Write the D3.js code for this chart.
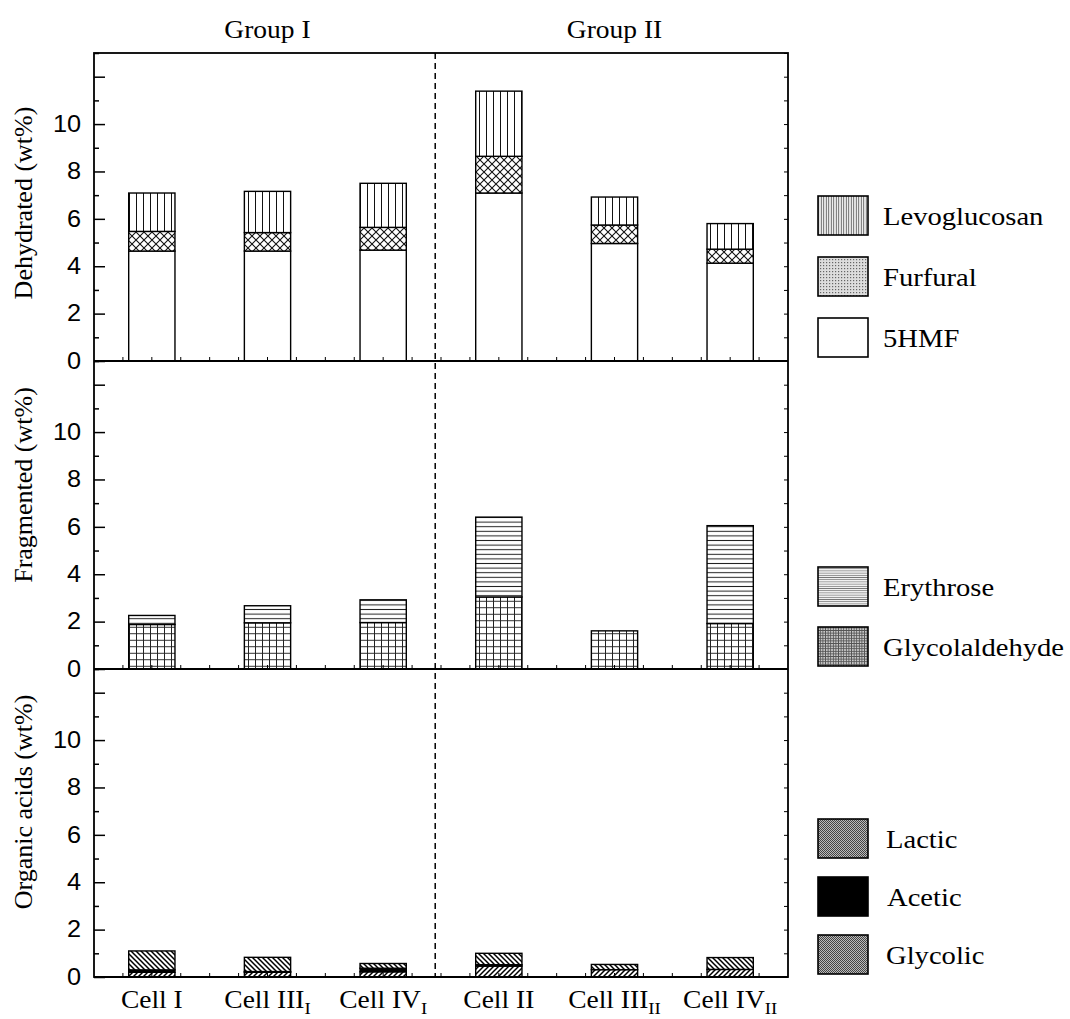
<!DOCTYPE html>
<html>
<head>
<meta charset="utf-8">
<script src="https://cdn.jsdelivr.net/npm/d3@7"></script>
<style>
  html, body { margin: 0; padding: 0; background: #fff; }
  svg { display: block; }
</style>
</head>
<body>
<svg id="chart" width="1070" height="1019"></svg>
<script>
// ---- Data ---------------------------------------------------------------
// Cells along the x axis: base label and subscript
const cellNames = ["Cell I", "Cell III", "Cell IV", "Cell II", "Cell III", "Cell IV"];
const cellSubs  = ["", "I", "I", "", "II", "II"];
const groupNames = ["Group I", "Group II"];

// Dehydrated products (wt%)
const hmf5         = [4.64, 4.64, 4.68, 7.09, 4.96, 4.13];
const furfural     = [0.83, 0.78, 0.96, 1.55, 0.78, 0.59];
const levoglucosan = [1.62, 1.74, 1.86, 2.75, 1.18, 1.08];

// Fragmented products (wt%)
const glycolaldehyde = [1.88, 1.95, 1.96, 3.04, 1.61, 1.92];
const erythrose      = [0.38, 0.72, 0.96, 3.37, 0.00, 4.13];

// Organic acids (wt%)
const glycolic = [0.20, 0.20, 0.22, 0.46, 0.31, 0.32];
const acetic   = [0.10, 0.03, 0.15, 0.06, 0.00, 0.00];
const lactic   = [0.80, 0.60, 0.20, 0.48, 0.22, 0.50];

// Y axis ticks (every unit) and the labelled ones
const yTickValues  = d3.range(0, 14);
const yTickLabels  = [0, 2, 4, 6, 8, 10];
const yMax = 13;

// ---- Layout -------------------------------------------------------------
const left = 94, right = 788, frameTop = 53, panelH = 308;
const serif = "'Liberation Serif', 'Times New Roman', serif";
const sans  = "'Liberation Sans', Arial, sans-serif";
const widen = 1.1;   // horizontal glyph widening for all horizontal text

const svg = d3.select("#chart");
const defs = svg.append("defs");

// place a horizontal text at (x, y) with slightly widened glyphs
function place(sel, fx, fy) {
  sel.attr("x", 0).attr("y", 0)
    .attr("transform", (d, i) => `translate(${fx(d, i)},${fy(d, i)}) scale(${widen},1)`);
  return sel;
}

// Hatch patterns used inside the bars
function pattern(id, w, h, draw, bg = "#fff") {
  const p = defs.append("pattern")
    .attr("id", id).attr("patternUnits", "userSpaceOnUse")
    .attr("width", w).attr("height", h);
  p.append("rect").attr("width", w).attr("height", h).attr("fill", bg);
  draw(p);
}
pattern("p-levo", 7, 10, p => p.append("line").attr("x1", 3.5).attr("x2", 3.5).attr("y1", 0).attr("y2", 10)
  .attr("stroke", "#111").attr("stroke-width", 1));
pattern("p-furf", 8, 8, p => p.append("path").attr("d", "M0,0L8,8M8,0L0,8")
  .attr("stroke", "#111").attr("stroke-width", 1.1).attr("fill", "none"));
pattern("p-ery", 10, 4.6, p => p.append("line").attr("x1", 0).attr("x2", 10).attr("y1", 2.3).attr("y2", 2.3)
  .attr("stroke", "#222").attr("stroke-width", 1));
pattern("p-glyc", 7, 6.5, p => p.append("path").attr("d", "M3.5,0V6.5M0,3.25H7")
  .attr("stroke", "#222").attr("stroke-width", 1).attr("fill", "none"));
pattern("p-lactic", 5, 5, p => p.append("path").attr("d", "M0,0L5,5M-1,4L1,6M4,-1L6,1")
  .attr("stroke", "#000").attr("stroke-width", 1.5).attr("fill", "none"));
pattern("p-glycolic", 5, 5, p => p.append("path").attr("d", "M0,5L5,0M-1,1L1,-1M4,6L6,4")
  .attr("stroke", "#000").attr("stroke-width", 1.5).attr("fill", "none"));

// Finer screens used in the legend swatches
pattern("l-levo", 2.5, 4, p => p.append("line").attr("x1", 1.25).attr("x2", 1.25).attr("y1", 0).attr("y2", 4)
  .attr("stroke", "#555").attr("stroke-width", 1));
pattern("l-furf", 3, 3, p => p.append("rect").attr("x", 1).attr("y", 1).attr("width", 1.2).attr("height", 1.2).attr("fill", "#666"), "#ddd");
pattern("l-ery", 4, 2.2, p => p.append("line").attr("x1", 0).attr("x2", 4).attr("y1", 1.1).attr("y2", 1.1)
  .attr("stroke", "#777").attr("stroke-width", 0.9));
pattern("l-glyc", 2.6, 2.6, p => p.append("path").attr("d", "M1.3,0V2.6M0,1.3H2.6")
  .attr("stroke", "#555").attr("stroke-width", 0.9).attr("fill", "none"), "#ccc");
pattern("l-dots", 2, 2, p => {
  p.append("rect").attr("x", 0).attr("y", 0).attr("width", 1).attr("height", 1).attr("fill", "#444");
  p.append("rect").attr("x", 1).attr("y", 1).attr("width", 1).attr("height", 1).attr("fill", "#444");
}, "#bbb");

// ---- Panels -------------------------------------------------------------
const panels = [
  {
    title: "Dehydrated (wt%)", titleY: 203,
    series: [
      { name: "5HMF", values: hmf5, fill: "#fff" },
      { name: "Furfural", values: furfural, fill: "url(#p-furf)" },
      { name: "Levoglucosan", values: levoglucosan, fill: "url(#p-levo)" }
    ],
    legend: [
      { name: "Levoglucosan", fill: "url(#l-levo)", y: 196, tx: 883 },
      { name: "Furfural", fill: "url(#l-furf)", y: 257, tx: 883 },
      { name: "5HMF", fill: "#fff", y: 318, tx: 883 }
    ]
  },
  {
    title: "Fragmented (wt%)", titleY: 485,
    series: [
      { name: "Glycolaldehyde", values: glycolaldehyde, fill: "url(#p-glyc)" },
      { name: "Erythrose", values: erythrose, fill: "url(#p-ery)" }
    ],
    legend: [
      { name: "Erythrose", fill: "url(#l-ery)", y: 567, tx: 883 },
      { name: "Glycolaldehyde", fill: "url(#l-glyc)", y: 627, tx: 883 }
    ]
  },
  {
    title: "Organic acids  (wt%)", titleY: 802,
    series: [
      { name: "Glycolic", values: glycolic, fill: "url(#p-glycolic)" },
      { name: "Acetic", values: acetic, fill: "#000" },
      { name: "Lactic", values: lactic, fill: "url(#p-lactic)" }
    ],
    legend: [
      { name: "Lactic", fill: "url(#l-dots)", y: 819, tx: 886 },
      { name: "Acetic", fill: "#000", y: 877, tx: 887 },
      { name: "Glycolic", fill: "url(#l-dots)", y: 935, tx: 886 }
    ]
  }
];

const x = d3.scaleBand().domain(d3.range(cellNames.length))
  .range([left, right]).paddingInner(0.6).paddingOuter(0.3);
const bw = x.bandwidth();
const step = x.step();

panels.forEach((panel, i) => {
  const top = frameTop + i * panelH;
  const y = d3.scaleLinear().domain([0, yMax]).range([top + panelH, top]);
  const g = svg.append("g");

  // stacked bars
  const keys = panel.series.map(s => s.name);
  const rows = cellNames.map((c, j) => {
    const r = { idx: j };
    panel.series.forEach(s => { r[s.name] = s.values[j]; });
    return r;
  });
  const stacked = d3.stack().keys(keys)(rows);
  stacked.forEach((layer, li) => {
    g.append("g").selectAll("rect")
      .data(layer.filter(d => d[1] - d[0] > 0))
      .join("rect")
      .attr("x", d => x(d.data.idx))
      .attr("y", d => y(d[1]))
      .attr("width", bw)
      .attr("height", d => y(d[0]) - y(d[1]))
      .attr("fill", panel.series[li].fill)
      .attr("stroke", "#000")
      .attr("stroke-width", 1.4);
  });

  // left axis: inward ticks, long on even values
  const ax = g.append("g").attr("transform", `translate(${left},0)`)
    .call(d3.axisLeft(y).tickValues(yTickValues).tickSizeInner(-11).tickSizeOuter(0).tickPadding(13)
      .tickFormat(d => yTickLabels.includes(d) ? d : ""));
  ax.select(".domain").remove();
  ax.selectAll(".tick line").attr("stroke", "#000").attr("stroke-width", 1.5)
    .attr("x2", d => d % 2 === 0 ? 11 : 5);
  ax.selectAll(".tick text")
    .attr("font-family", sans).attr("font-size", 23).attr("fill", "#000")
    .attr("x", 0).attr("transform", `translate(-13,0) scale(${widen},1)`);

  // right axis: short inward ticks, no labels
  const ar = g.append("g").attr("transform", `translate(${right},0)`)
    .call(d3.axisRight(y).tickValues(yTickValues).tickSizeInner(-4).tickSizeOuter(0).tickFormat(""));
  ar.select(".domain").remove();
  ar.selectAll(".tick line").attr("stroke", "#000").attr("stroke-width", 1);

  // small category ticks on the zero line
  g.append("g").selectAll("line")
    .data(d3.range(1, cellNames.length * 4))
    .join("line")
    .attr("x1", k => left + k * step / 4).attr("x2", k => left + k * step / 4)
    .attr("y1", y(0)).attr("y2", y(0) - 4)
    .attr("stroke", "#000").attr("stroke-width", 1);

  // zero line / panel separator
  g.append("line").attr("x1", left).attr("x2", right).attr("y1", y(0)).attr("y2", y(0))
    .attr("stroke", "#000").attr("stroke-width", 1.8);

  // panel y title
  g.append("text")
    .attr("transform", `translate(32,${panel.titleY}) rotate(-90)`)
    .attr("text-anchor", "middle")
    .attr("font-family", serif).attr("font-size", 26)
    .text(panel.title);

  // legend
  const lg = g.append("g").selectAll("g").data(panel.legend).join("g");
  lg.append("rect")
    .attr("x", 818).attr("y", d => d.y).attr("width", 50).attr("height", 39)
    .attr("fill", d => d.fill).attr("stroke", "#000").attr("stroke-width", 1.6);
  place(lg.append("text"), d => d.tx, d => d.y + 29)
    .attr("font-family", serif).attr("font-size", 26)
    .text(d => d.name);
});

// outer frame
svg.append("rect")
  .attr("x", left).attr("y", frameTop)
  .attr("width", right - left).attr("height", panelH * 3)
  .attr("fill", "none").attr("stroke", "#000").attr("stroke-width", 1.8);

// dashed divider between the two groups
const divX = left + 2.95 * step;
svg.append("line")
  .attr("x1", divX).attr("x2", divX)
  .attr("y1", frameTop).attr("y2", frameTop + panelH * 3)
  .attr("stroke", "#000").attr("stroke-width", 1.5).attr("stroke-dasharray", "6,4");

// group titles above each half
place(svg.append("g").selectAll("text").data(groupNames).join("text"),
    (d, gi) => (x(gi * 3) + x(gi * 3 + 2) + bw) / 2, () => 38)
  .attr("text-anchor", "middle")
  .attr("font-family", serif).attr("font-size", 25)
  .text(d => d);

// category labels with subscripts
const lab = place(svg.append("g").selectAll("text")
    .data(cellNames.map((n, j) => ({ n, s: cellSubs[j], j })))
    .join("text"),
    d => x(d.j) + bw / 2, () => 1008)
  .attr("text-anchor", "middle")
  .attr("font-family", serif).attr("font-size", 25);
lab.append("tspan").text(d => d.n);
lab.filter(d => d.s).append("tspan").attr("font-size", 17).attr("dy", 6).text(d => d.s);
</script>
</body>
</html>
